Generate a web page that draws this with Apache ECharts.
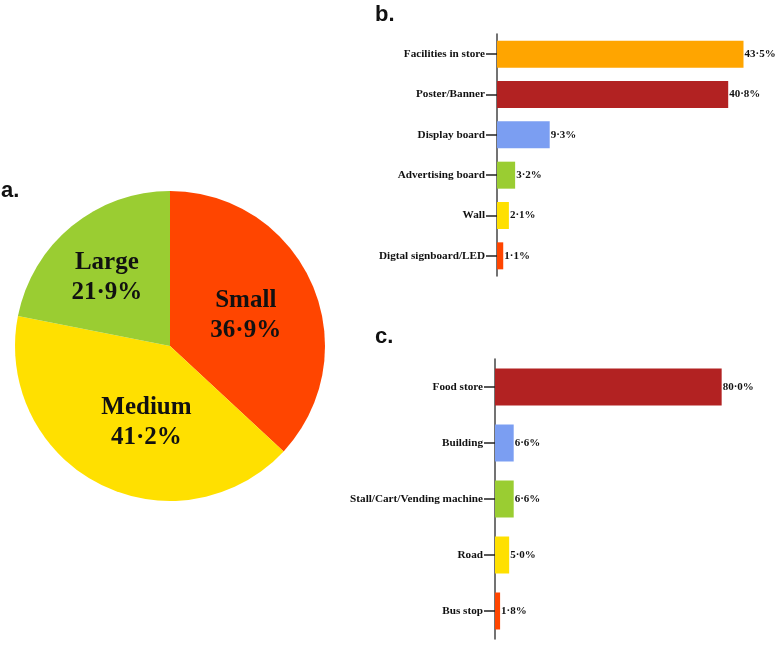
<!DOCTYPE html>
<html><head><meta charset="utf-8">
<script src="https://cdn.jsdelivr.net/npm/echarts@6/dist/echarts.min.js"></script>
<style>html,body{margin:0;padding:0;background:#fff}#c{width:777px;height:649px}</style>
</head><body><div id="c"></div>
<script>
const pieNames = ['Small', 'Medium', 'Large'];
const pieValues = [36.9, 41.2, 21.9];
const pieColors = ['#FF4500', '#FFE000', '#9ACD32'];

const bCategories = ['Facilities in store', 'Poster/Banner', 'Display board', 'Advertising board', 'Wall', 'Digtal signboard/LED'];
const bValues = [43.5, 40.8, 9.3, 3.2, 2.1, 1.1];
const bColors = ['#FFA500', '#B22222', '#7B9EF2', '#9ACD32', '#FFE000', '#FF4500'];

const cCategories = ['Food store', 'Building', 'Stall/Cart/Vending machine', 'Road', 'Bus stop'];
const cValues = [80.0, 6.6, 6.6, 5.0, 1.8];
const cColors = ['#B22222', '#7B9EF2', '#9ACD32', '#FFE000', '#FF4500'];

// label nudges for pie slices (styling only)
const pieLabelOffsets = [[2, 2], [13, 5], [-12, -6]];

const serif = '"Liberation Serif", "Times New Roman", serif';
const sans = '"Liberation Sans", Arial, sans-serif';
const fmt = v => v.toFixed(1).replace('.', '·') + '%';

const chart = echarts.init(document.getElementById('c'), null, {renderer: 'canvas'});
const catAxis = (gi, cats) => ({
  type: 'category', gridIndex: gi, data: cats, inverse: true,
  axisLine: {show: true, lineStyle: {color: '#444', width: 1.5}},
  axisTick: {show: true, inside: false, alignWithLabel: true, length: 11, lineStyle: {color: '#222', width: 1.5}},
  axisLabel: {fontFamily: serif, fontWeight: 'bold', fontSize: 11.2, color: '#111', margin: 12}
});
const valAxis = (gi, max) => ({
  type: 'value', gridIndex: gi, min: 0, max: max,
  show: false, splitLine: {show: false}
});
const barSeries = (gi, vals, cols, w) => ({
  type: 'bar', xAxisIndex: gi, yAxisIndex: gi, barWidth: w,
  data: vals.map((v, i) => ({value: v, itemStyle: {color: cols[i]}})),
  label: {show: true, position: 'right', distance: 1, formatter: p => fmt(p.value),
    fontFamily: serif, fontWeight: 'bold', fontSize: 11, color: '#111'},
  silent: true
});

chart.setOption({
  animation: false,
  title: [
    {text: 'a.', left: -4, top: 175, textStyle: {fontFamily: sans, fontWeight: 'bold', fontSize: 22, color: '#111'}},
    {text: 'b.', left: 370, top: -1, textStyle: {fontFamily: sans, fontWeight: 'bold', fontSize: 22, color: '#111'}},
    {text: 'c.', left: 370, top: 321, textStyle: {fontFamily: sans, fontWeight: 'bold', fontSize: 22, color: '#111'}}
  ],
  grid: [
    {left: 497, top: 34, width: 255, height: 242},
    {left: 495, top: 359, width: 255, height: 280}
  ],
  xAxis: [valAxis(0, 45), valAxis(1, 90)],
  yAxis: [catAxis(0, bCategories), catAxis(1, cCategories)],
  series: [
    {
      type: 'pie', center: [170, 346], radius: 155, startAngle: 90, clockwise: true,
      data: pieNames.map((n, i) => ({name: n, value: pieValues[i], itemStyle: {color: pieColors[i]},
        label: {offset: pieLabelOffsets[i]}})),
      label: {show: true, position: 'inside', formatter: p => p.name + '\n' + fmt(p.value),
        fontFamily: serif, fontWeight: 'bold', fontSize: 25, lineHeight: 30, color: '#111'},
      labelLine: {show: false}, silent: true
    },
    barSeries(0, bValues, bColors, 27),
    barSeries(1, cValues, cColors, 37)
  ]
});
</script></body></html>
